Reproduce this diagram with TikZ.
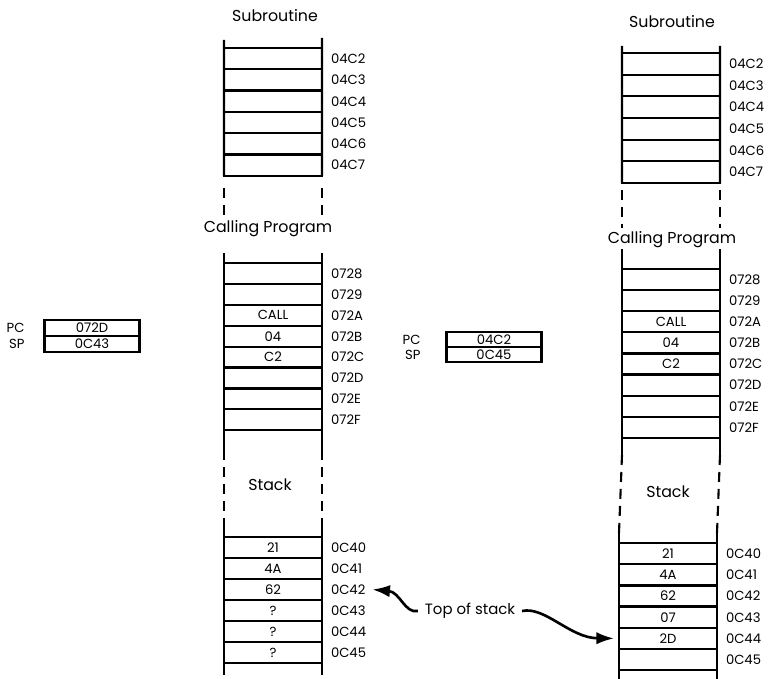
\documentclass[tikz,border=0pt]{standalone}
\usepackage{fontspec}
\setmainfont{Poppins}
\usetikzlibrary{positioning,arrows.meta}

\begin{document}
\begin{tikzpicture}[x=0.02cm, y=-0.02cm, line width=1.2pt,
    cell/.style={draw, minimum width=1.96cm, minimum height=#1, inner sep=0pt, outer sep=0pt, font=\fontsize{7.5}{8}\selectfont},
    cell/.default=0.42cm,
    addr/.style={inner sep=0pt, font=\fontsize{7.5}{8}\selectfont},
    title/.style={font=\fontsize{9}{10}\selectfont},
    reg/.style={draw, minimum width=1.9cm, minimum height=0.31cm, inner sep=0pt, outer sep=0pt, font=\fontsize{7.5}{8}\selectfont},
    gap/.style={dash pattern=on 0.2cm off 0.14cm},
    pointer/.style={line width=1.5pt, -{Latex[length=10pt, width=7pt]}}]

    \useasboundingbox (0,0) rectangle (768,679);

    % before the call
    \node[title] (lsubt) at (275,16) {Subroutine};
    \node[cell=0.426cm] (lsub1) at (273,58.6) {};
    \node[cell=0.426cm] (lsub2) at (273,79.9) {};
    \node[cell=0.426cm] (lsub3) at (273,101.3) {};
    \node[cell=0.426cm] (lsub4) at (273,122.6) {};
    \node[cell=0.426cm] (lsub5) at (273,143.9) {};
    \node[cell=0.426cm] (lsub6) at (273,165.2) {};
    \node[addr, right=0.16cm of lsub1] {04C2};
    \node[addr, right=0.16cm of lsub2] {04C3};
    \node[addr, right=0.16cm of lsub3] {04C4};
    \node[addr, right=0.16cm of lsub4] {04C5};
    \node[addr, right=0.16cm of lsub5] {04C6};
    \node[addr, right=0.16cm of lsub6] {04C7};

    \node[title] (lcallt) at (268,229) {Calling Program};
    \node[cell] (lcall1) at (273,273.5) {};
    \node[cell] (lcall2) at (273,294.4) {};
    \node[cell] (lcall3) at (273,315.3) {CALL};
    \node[cell] (lcall4) at (273,336.2) {04};
    \node[cell] (lcall5) at (273,357.1) {C2};
    \node[cell] (lcall6) at (273,378) {};
    \node[cell] (lcall7) at (273,398.9) {};
    \node[cell] (lcall8) at (273,419.8) {};
    \node[addr, right=0.16cm of lcall1] {0728};
    \node[addr, right=0.16cm of lcall2] {0729};
    \node[addr, right=0.16cm of lcall3] {072A};
    \node[addr, right=0.16cm of lcall4] {072B};
    \node[addr, right=0.16cm of lcall5] {072C};
    \node[addr, right=0.16cm of lcall6] {072D};
    \node[addr, right=0.16cm of lcall7] {072E};
    \node[addr, right=0.16cm of lcall8] {072F};

    \node[title] (lstkt) at (270,485) {Stack};
    \node[cell] (lstk1) at (273,547.5) {21};
    \node[cell] (lstk2) at (273,568.5) {4A};
    \node[cell] (lstk3) at (273,589.5) {62};
    \node[cell] (lstk4) at (273,610.5) {?};
    \node[cell] (lstk5) at (273,631.5) {?};
    \node[cell] (lstk6) at (273,652.5) {?};
    \node[addr, right=0.16cm of lstk1] {0C40};
    \node[addr, right=0.16cm of lstk2] {0C41};
    \node[addr, right=0.16cm of lstk3] (lsa3) {0C42};
    \node[addr, right=0.16cm of lstk4] {0C43};
    \node[addr, right=0.16cm of lstk5] {0C44};
    \node[addr, right=0.16cm of lstk6] {0C45};

    \node[reg] (lpc) at (92,328) {072D};
    \node[reg] (lsp) at (92,344) {0C43};
    \node[addr, left=0.38cm of lpc] {PC};
    \node[addr, left=0.38cm of lsp] {SP};

    % rails of the left map
    \coordinate (la1) at (224,40);   \coordinate (lb1) at (322,38);
    \coordinate (la2) at (224,188);  \coordinate (lb2) at (322,188);
    \coordinate (la3) at (224,216);  \coordinate (lb3) at (322,216);
    \coordinate (la4) at (224,253);  \coordinate (lb4) at (322,253);
    \coordinate (la5) at (224,450);  \coordinate (lb5) at (322,450);
    \coordinate (la6) at (224,525);  \coordinate (lb6) at (322,525);
    \coordinate (la7) at (224,675);  \coordinate (lb7) at (322,675);
    \draw (la1) -- (lsub6.south west);
    \draw (lb1) -- (lsub6.south east);
    \draw[gap] (la2) -- (la3);
    \draw[gap] (lb2) -- (lb3);
    \draw (la4) -- (la5);
    \draw (lb4) -- (lb5);
    \draw[gap] (la5) -- (la6);
    \draw[gap] (lb5) -- (lb6);
    \draw (la6) -- (la7);
    \draw (lb6) -- (lb7);

    % after the call
    \node[title] (rsubt) at (672,22) {Subroutine};
    \node[cell=0.433cm] (rsub1) at (671,63.8) {};
    \node[cell=0.433cm] (rsub2) at (671,85.5) {};
    \node[cell=0.433cm] (rsub3) at (671,107.2) {};
    \node[cell=0.433cm] (rsub4) at (671,128.8) {};
    \node[cell=0.433cm] (rsub5) at (671,150.5) {};
    \node[cell=0.433cm] (rsub6) at (671,172.2) {};
    \node[addr, right=0.16cm of rsub1] {04C2};
    \node[addr, right=0.16cm of rsub2] {04C3};
    \node[addr, right=0.16cm of rsub3] {04C4};
    \node[addr, right=0.16cm of rsub4] {04C5};
    \node[addr, right=0.16cm of rsub5] {04C6};
    \node[addr, right=0.16cm of rsub6] {04C7};

    \node[title] (rcallt) at (672,240) {Calling Program};
    \node[cell] (rcall1) at (671,279.6) {};
    \node[cell] (rcall2) at (671,300.7) {};
    \node[cell] (rcall3) at (671,321.8) {CALL};
    \node[cell] (rcall4) at (671,342.9) {04};
    \node[cell] (rcall5) at (671,364) {C2};
    \node[cell] (rcall6) at (671,385.1) {};
    \node[cell] (rcall7) at (671,406.2) {};
    \node[cell] (rcall8) at (671,427.3) {};
    \node[addr, right=0.16cm of rcall1] {0728};
    \node[addr, right=0.16cm of rcall2] {0729};
    \node[addr, right=0.16cm of rcall3] {072A};
    \node[addr, right=0.16cm of rcall4] {072B};
    \node[addr, right=0.16cm of rcall5] {072C};
    \node[addr, right=0.16cm of rcall6] {072D};
    \node[addr, right=0.16cm of rcall7] {072E};
    \node[addr, right=0.16cm of rcall8] {072F};

    \node[title] (rstkt) at (668,492) {Stack};
    \node[cell] (rstk1) at (668,553.6) {21};
    \node[cell] (rstk2) at (668,574.8) {4A};
    \node[cell] (rstk3) at (668,596) {62};
    \node[cell] (rstk4) at (668,617.2) {07};
    \node[cell] (rstk5) at (668,638.4) {2D};
    \node[cell] (rstk6) at (668,659.6) {};
    \node[addr, right=0.16cm of rstk1] {0C40};
    \node[addr, right=0.16cm of rstk2] {0C41};
    \node[addr, right=0.16cm of rstk3] {0C42};
    \node[addr, right=0.16cm of rstk4] {0C43};
    \node[addr, right=0.16cm of rstk5] {0C44};
    \node[addr, right=0.16cm of rstk6] {0C45};

    \node[reg] (rpc) at (494,339.5) {04C2};
    \node[reg] (rsp) at (494,354.5) {0C45};
    \node[addr, left=0.5cm of rpc] {PC};
    \node[addr, left=0.5cm of rsp] {SP};

    % rails of the right map
    \coordinate (ra1) at (622,46);   \coordinate (rb1) at (720,46);
    \coordinate (ra2) at (622,190);  \coordinate (rb2) at (720,190);
    \coordinate (ra3) at (622,228);  \coordinate (rb3) at (720,228);
    \coordinate (ra4) at (622,249);  \coordinate (rb4) at (720,249);
    \coordinate (ra5) at (622,258);  \coordinate (rb5) at (720,258);
    \coordinate (ra6) at (622,455);  \coordinate (rb6) at (720,455);
    \coordinate (ra7) at (619,533);  \coordinate (rb7) at (717,533);
    \coordinate (ra8) at (619,679);  \coordinate (rb8) at (717,679);
    \draw (ra1) -- (rsub6.south west);
    \draw (rb1) -- (rsub6.south east);
    \draw[gap] (ra2) -- (ra3);
    \draw[gap] (rb2) -- (rb3);
    \draw[gap] (ra4) -- (ra5);
    \draw[gap] (rb4) -- (rb5);
    \draw (ra5) -- (ra6);
    \draw (rb5) -- (rb6);
    \draw[gap] (ra6) -- (ra7);
    \draw[gap] (rb6) -- (rb7);
    \draw (ra7) -- (ra8);
    \draw (rb7) -- (rb8);

    % top of stack
    \node[font=\fontsize{8.5}{10}\selectfont] (tos) at (470,611) {Top of stack};
    \coordinate (ltop) at ([xshift=0.12cm]lsa3.east);
    \coordinate (rtop) at ([xshift=-0.1cm]rstk5.west);
    \draw[pointer] (tos.west) .. controls (405,614) and (400,592) .. (ltop);
    \draw[pointer] (tos.east) .. controls (545,606) and (570,638) .. (rtop);
\end{tikzpicture}
\end{document}
